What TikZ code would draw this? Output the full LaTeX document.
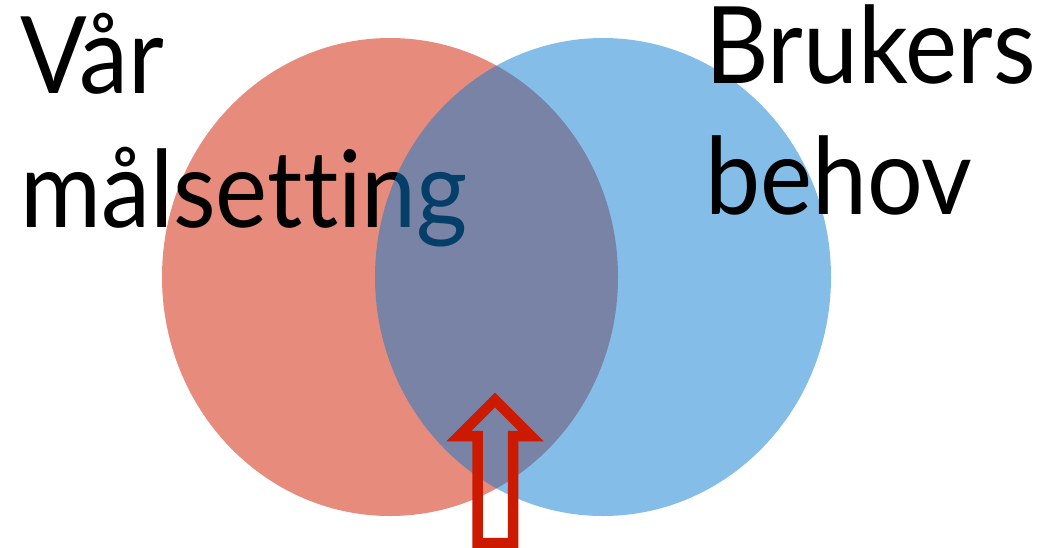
\documentclass[tikz,border=0pt]{standalone}
\usepackage{fontspec}
\setmainfont{Lato}[FakeStretch=0.92,Ligatures=NoCommon]
\usetikzlibrary{shapes.geometric}
\definecolor{salmon}{RGB}{231,139,125}
\definecolor{azure}{RGB}{10,124,208}
\definecolor{signal}{RGB}{204,26,0}
\tikzset{
  venn/.style={ellipse,fill=#1,inner sep=0pt,minimum width=456pt,minimum height=478pt},
  venn/.default=salmon,
  heading/.style={font=\fontsize{107}{#1}\selectfont,align=left,inner sep=0pt,anchor=base west},
  heading/.default=134,
  hollow arrow/.style={draw=signal,line width=10.5pt,miter limit=10},
}

\begin{document}
\begin{tikzpicture}[x=1pt,y=-1pt]
  \useasboundingbox (0,0) rectangle (1055,547);
  \node[venn=salmon] (goal) at (390,277) {};
  \node[heading] (ours) at (20,227) {Vår\\målsetting};
  \node[venn=azure,fill opacity=0.5] (need) at (603,277) {};
  \node[heading=131] (users) at (705,214) {Brukers\\behov};
  % arrow into the overlap
  \draw[hollow arrow] (477.5,543) -- (477.5,436) -- (459,436) -- (495,400)
    -- (531,436) -- (513,436) -- (513,543) -- cycle;
\end{tikzpicture}
\end{document}
